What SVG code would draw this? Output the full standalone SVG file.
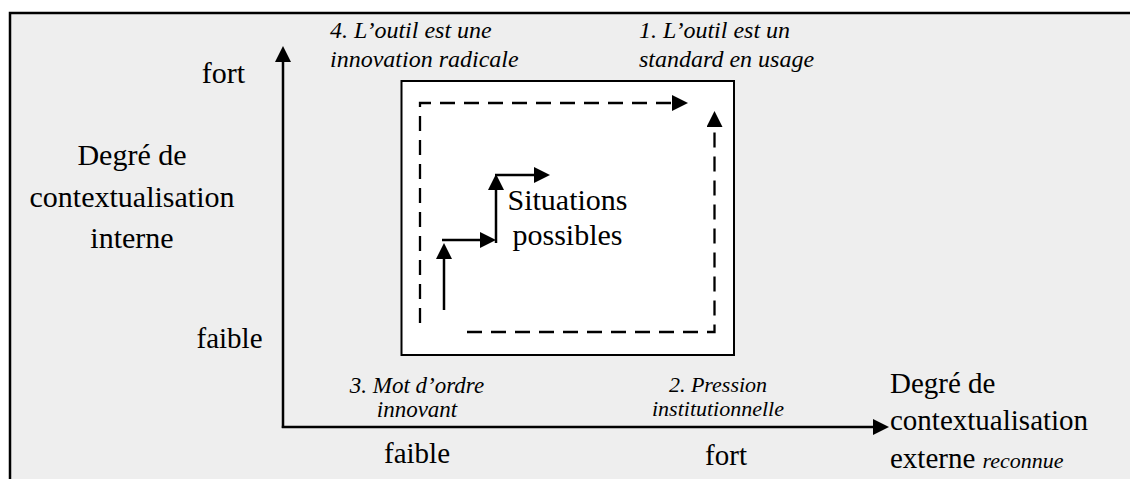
<svg xmlns="http://www.w3.org/2000/svg" width="1130" height="479" viewBox="0 0 1130 479">
<defs>
<marker id="ah" markerUnits="userSpaceOnUse" markerWidth="17" markerHeight="16" refX="1" refY="8" orient="auto" viewBox="0 0 17 16">
<path d="M0,0 L16,8 L0,16 z" fill="#000"/>
</marker>
</defs>
<rect x="0" y="0" width="1130" height="479" fill="#fff"/>
<rect x="10" y="13" width="1200" height="500" fill="#eeeeee" stroke="#000" stroke-width="2.5"/>
<g id="frame">
<rect x="401.5" y="81" width="332.5" height="274" fill="#fff" stroke="#000" stroke-width="2"/>
</g>
<g id="connectors" fill="none" stroke="#000" stroke-width="2.5">
<path d="M283,428 V61" marker-end="url(#ah)"/>
<path d="M281.8,427 H874" marker-end="url(#ah)"/>
<path d="M420,323 V103 H673" stroke-width="2.3" stroke-dasharray="15 9" marker-end="url(#ah)"/>
<path d="M467,332 H714.5 V126" stroke-width="2.3" stroke-dasharray="15 9" marker-end="url(#ah)"/>
<path d="M444,310 V258" marker-end="url(#ah)"/>
<path d="M442,240 H481" marker-end="url(#ah)"/>
<path d="M496,243 V189" marker-end="url(#ah)"/>
<path d="M495,175 H535" marker-end="url(#ah)"/>
</g>
<g id="axis-y-label">
<text x="223.5" y="83" text-anchor="middle" font-family="'Liberation Serif', serif" font-size="30">fort</text>
<text text-anchor="middle" font-family="'Liberation Serif', serif" font-size="30"><tspan x="132" y="165">Degré de</tspan><tspan x="132" y="207">contextualisation</tspan><tspan x="132" y="248">interne</tspan></text>
<text x="229.5" y="348" text-anchor="middle" font-family="'Liberation Serif', serif" font-size="29">faible</text>
</g>
<g id="axis-x-label">
<text x="417" y="463" text-anchor="middle" font-family="'Liberation Serif', serif" font-size="29">faible</text>
<text x="726" y="465" text-anchor="middle" font-family="'Liberation Serif', serif" font-size="29">fort</text>
<text font-family="'Liberation Serif', serif" font-size="29"><tspan x="890" y="393">Degré de</tspan><tspan x="890" y="430">contextualisation</tspan><tspan x="890" y="468">externe <tspan font-style="italic" font-size="22">reconnue</tspan></tspan></text>
</g>
<g id="situations">
<text text-anchor="middle" font-family="'Liberation Serif', serif" font-size="30"><tspan x="567.5" y="210">Situations</tspan><tspan x="567.5" y="245">possibles</tspan></text>
</g>
<g id="q4">
<text font-family="'Liberation Serif', serif" font-size="24" font-style="italic"><tspan x="330" y="38">4. L’outil est une</tspan><tspan x="330" y="67">innovation radicale</tspan></text>
</g>
<g id="q1">
<text font-family="'Liberation Serif', serif" font-size="24" font-style="italic"><tspan x="639" y="38">1. L’outil est un</tspan><tspan x="639" y="67">standard en usage</tspan></text>
</g>
<g id="q3">
<text text-anchor="middle" font-family="'Liberation Serif', serif" font-size="23" font-style="italic"><tspan x="417" y="393">3. Mot d’ordre</tspan><tspan x="417" y="417">innovant</tspan></text>
</g>
<g id="q2">
<text text-anchor="middle" font-family="'Liberation Serif', serif" font-size="22" font-style="italic"><tspan x="718" y="392">2. Pression</tspan><tspan x="718" y="416">institutionnelle</tspan></text>
</g>
</svg>
